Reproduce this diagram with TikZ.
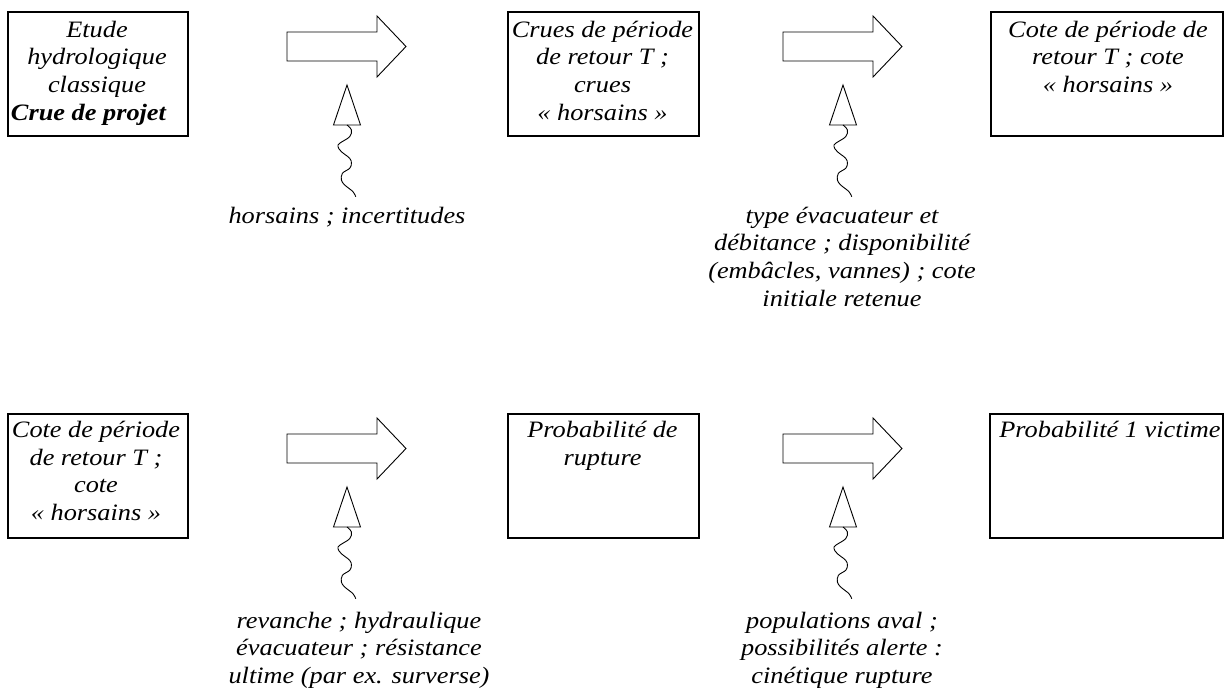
\documentclass[tikz,border=0pt]{standalone}
\usepackage{fontspec}
\setmainfont[FakeStretch=1.12]{Liberation Serif}
\newcommand\flowpart[3]{%
\begin{scope}[shift={(#1,#2)}]
 \draw[bigarrow] (287,32) -- (377,32) -- (377,16) -- (406,46.5) -- (377,77) -- (377,61) -- (287,61) -- cycle;
 \coordinate (up#3) at (347,85);
 \coordinate (foot#3) at (347,125);
 \draw[bigarrow] (up#3) -- (360.5,125) -- (333.5,125) -- cycle;
 \draw[wave] plot[smooth, tension=0.6] coordinates {(347,125) (351.4,130) (349.7,136.7) (339.7,143.3) (338,146.7) (341.4,151.7) (349.7,158.3) (351.4,163.3) (349.7,168.3) (342.4,173.3) (341.4,180) (344.7,185) (353,191.7) (355.7,196.7)};
\end{scope}}
\begin{document}
\begin{tikzpicture}[x=1pt,y=-1pt,
  box/.style={draw=black, line width=2pt, inner sep=0pt, anchor=north west},
  txt/.style={font=\fontsize{23.5}{27.7}\selectfont\itshape, align=center, inner sep=0pt, anchor=north},
  bigarrow/.style={draw=black, line width=0.9pt, fill=white, line join=miter},
  wave/.style={draw=black, line width=0.9pt}
]
\useasboundingbox (0,0) rectangle (1229,692);
% boxes
\node[box, minimum width=180pt, minimum height=124pt] (b1) at (7,11) {};
\node[box, minimum width=191pt, minimum height=124pt] (b2) at (507,11) {};
\node[box, minimum width=232pt, minimum height=124pt] (b3) at (990,11) {};
\node[box, minimum width=180pt, minimum height=124pt] (b4) at (7,413) {};
\node[box, minimum width=191pt, minimum height=124pt] (b5) at (507,413) {};
\node[box, minimum width=233pt, minimum height=124pt] (b6) at (989,413) {};
% box texts
\node[txt] (t1) at (97,17.6) {\strut Etude\\hydrologique\\classique\\\makebox[172pt][l]{\bfseries Crue de projet}};
\node[txt] (t2) at (602.5,17.6) {\strut Crues de période\\de retour T ;\\crues\\« horsains »};
\node[txt] (t3) at (1108,17.6) {\strut Cote de période de\\retour T ; cote\\« horsains »};
\node[txt] (t4) at (96,418) {\strut Cote de période\\de retour T ;\\cote\\« horsains »};
\node[txt] (t5) at (602.5,418) {\strut Probabilité de\\rupture};
\node[txt] (t6) at (1110,418) {\strut Probabilité 1 victime};
% arrows
\flowpart{0}{0}{a}
\flowpart{496}{0}{b}
\flowpart{0}{402}{c}
\flowpart{496}{402}{d}
% labels
\node[txt] (l1) at (347,203.6) {\strut horsains ; incertitudes};
\node[txt] (l2) at (842,203.6) {\strut type évacuateur et\\débitance ; disponibilité\\(embâcles, vannes) ; cote\\initiale retenue};
\node[txt] (l3) at (359,608.6) {\strut revanche ; hydraulique\\évacuateur ; résistance\\ultime (par ex. surverse)};
\node[txt] (l4) at (842,608.6) {\strut populations aval ;\\possibilités alerte :\\cinétique rupture};
\end{tikzpicture}
\end{document}
